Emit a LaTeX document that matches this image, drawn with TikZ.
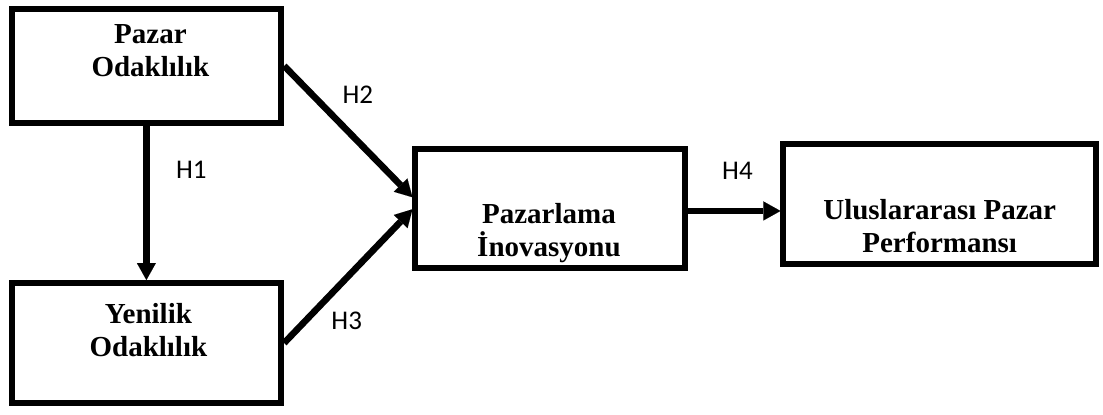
\documentclass[tikz,border=0pt]{standalone}
\usepackage{fontspec}
\usepackage{tikz}
\usetikzlibrary{positioning}
\usetikzlibrary{calc,arrows.meta}
\newfontfamily\boxserif{Liberation Serif}
\newfontfamily\hypsans{Carlito}
\newcommand{\boxfont}{\boxserif\bfseries\fontsize{14.5pt}{16.5pt}\selectfont}
\newcommand{\hypfont}{\hypsans\fontsize{13.5pt}{15pt}\selectfont}

\begin{document}
\begin{tikzpicture}
    [box/.style={rectangle, draw=black, line width=3pt, minimum width=134.75pt, minimum height=60pt},
     boxtext/.style={align=center, font=\boxfont, inner sep=0pt},
     hyp/.style={line width=3.3pt, -{Triangle[length=8.5pt, width=9.5pt, line width=0.01pt]}},
     hl/.style={font=\hypfont, inner sep=0pt}]

    \useasboundingbox (-73.2pt, 32.95pt) rectangle (478.3pt, -174.05pt);

    \node [box, minimum height=57.1pt] (po) {};
    \node [box, below=77pt of po] (yo) {};
    \coordinate (mid) at ($(po.east)!0.5!(yo.east)$);
    \node [box, minimum width=135pt, minimum height=59.5pt, right=64.15pt of mid, yshift=-2pt] (pi) {};
    \node [box, minimum width=156.25pt, right=46pt of pi, yshift=2pt] (up) {};

    \node [boxtext] (poT) at ([xshift=2pt, yshift=7.5pt] po.center) {Pazar\\Odaklılık};
    \node [boxtext] (yoT) at ([xshift=1pt, yshift=6.5pt] yo.center) {Yenilik\\Odaklılık};
    \node [boxtext] (piT) at ([xshift=-0.75pt, yshift=-12.2pt] pi.center) {Pazarlama\\İnovasyonu};
    \node [boxtext] (upT) at ([yshift=-10.6pt] up.center) {Uluslararası Pazar\\Performansı};

    \path [hyp] (po) edge node [hl, xshift=22.5pt, yshift=16.5pt] {H1} (yo);
    \path [hyp] (po.east) edge node [hl, xshift=4.8pt, yshift=18.3pt] {H2} ([yshift=5.6pt] pi.west);
    \path [hyp] (yo.east) edge node [hl, xshift=-0.8pt, yshift=-22.4pt] {H3} ([yshift=-0.4pt] pi.west);
    \path [hyp] ([yshift=-1.25pt] pi.east) edge node [hl, xshift=1.5pt, yshift=20.1pt] {H4} ([yshift=-1.25pt] pi.east -| up.west);
\end{tikzpicture}
\end{document}
